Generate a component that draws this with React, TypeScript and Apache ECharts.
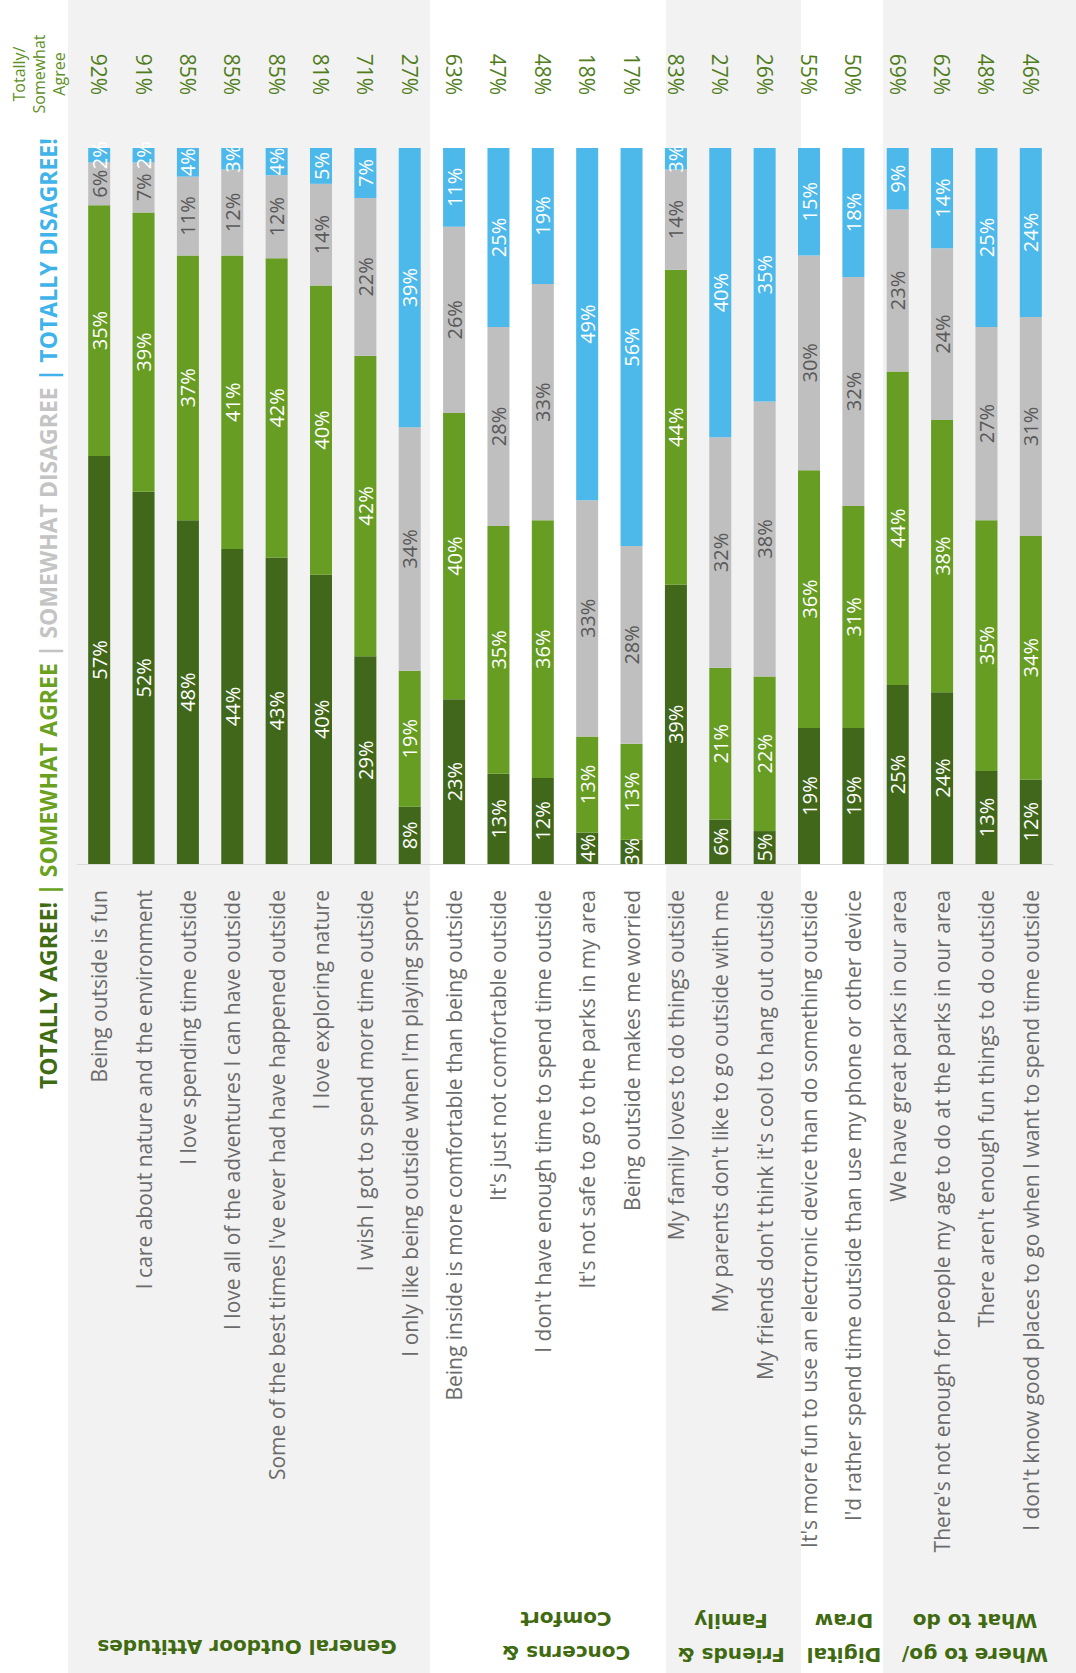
import React, { useEffect, useRef } from "react";
import * as echarts from "echarts";

const categories = [
  "Being outside is fun",
  "I care about nature and the environment",
  "I love spending time outside",
  "I love all of the adventures I can have outside",
  "Some of the best times I've ever had have happened outside",
  "I love exploring nature",
  "I wish I got to spend more time outside",
  "I only like being outside when I'm playing sports",
  "Being inside is more comfortable than being outside",
  "It's just not comfortable outside",
  "I don't have enough time to spend time outside",
  "It's not safe to go to the parks in my area",
  "Being outside makes me worried",
  "My family loves to do things outside",
  "My parents don't like to go outside with me",
  "My friends don't think it's cool to hang out outside",
  "It's more fun to use an electronic device than do something outside",
  "I'd rather spend time outside than use my phone or other device",
  "We have great parks in our area",
  "There's not enough for people my age to do at the parks in our area",
  "There aren't enough fun things to do outside",
  "I don't know good places to go when I want to spend time outside",
];

// Estimated unrounded shares (labels show them rounded)
const totallyAgree = [57, 52, 48, 44, 42.8, 40.4, 29, 8, 23, 12.6, 12, 4.4, 3.4, 39, 6.2, 4.6, 19, 19, 25, 24, 13, 11.8];
const somewhatAgree = [35, 39, 37, 41, 41.8, 40.4, 42, 19, 40, 34.6, 36, 13.4, 13.4, 44, 21.2, 21.6, 36, 31, 43.8, 38, 35, 34];
const somewhatDisagree = [6, 7, 11, 12, 11.6, 14.2, 22, 34, 26, 27.8, 33, 33, 27.6, 14, 32.2, 38.4, 30, 32, 22.6, 24, 27, 30.6];
const totallyDisagree = [2, 2, 4, 3, 3.8, 5, 7, 39, 11, 25, 19, 49.2, 55.6, 3, 40.4, 35.4, 15, 18, 8.6, 14, 25, 23.6];
const agreeTotals = [92, 91, 85, 85, 85, 81, 71, 27, 63, 47, 48, 18, 17, 83, 27, 26, 55, 50, 69, 62, 48, 46];

const groupNames = [
  "General Outdoor Attitudes",
  "Concerns &\nComfort",
  "Friends &\nFamily",
  "Digital\nDraw",
  "Where to go/\nWhat to do",
];

const COLORS = {
  dark: "#41681a",
  light: "#669d22",
  gray: "#bfbfbf",
  blue: "#4db8ea",
};

export default function App() {
  const ref = useRef<HTMLDivElement>(null);

  useEffect(() => {
    if (!ref.current) return;
    const chart = echarts.init(ref.current, null, { renderer: "svg" });
    const font = "'Open Sans', sans-serif";

    const mkSeries = (name: string, data: number[], color: string, labelColor: string) => ({
      name,
      type: "bar",
      stack: "all",
      data,
      barWidth: 22,
      itemStyle: { color },
      label: {
        show: true,
        position: "inside",
        rotate: 90,
        color: labelColor,
        fontFamily: font,
        fontSize: 20,
        formatter: (p: any) => Math.round(p.value) + "%",
      },
    });

    // background bands (decorative)
    const bands = [
      [68, 430],
      [666, 801],
      [883, 1076],
    ];
    const groupPos = [
      { x: 247, y: 1647 },
      { x: 566, y: 1636 },
      { x: 731, y: 1638 },
      { x: 844, y: 1638 },
      { x: 975, y: 1638 },
    ];

    const graphic: any[] = [];
    bands.forEach(([a, b]) => {
      graphic.push({
        type: "rect",
        z: -10,
        silent: true,
        shape: { x: a, y: 0, width: b - a, height: 1673 },
        style: { fill: "#f2f2f2" },
      });
    });
    groupNames.forEach((g, i) => {
      graphic.push({
        type: "text",
        x: groupPos[i].x,
        y: groupPos[i].y,
        rotation: Math.PI,
        style: {
          text: g,
          align: "center",
          verticalAlign: "middle",
          fill: "#3f6a10",
          font: "bold 20px 'DejaVu Sans', sans-serif",
          lineHeight: 34,
        },
      });
    });
    graphic.push({
      type: "text",
      x: 39,
      y: 74,
      rotation: Math.PI / 2,
      style: {
        text: "Totally/\nSomewhat\nAgree",
        align: "center",
        verticalAlign: "middle",
        fill: "#5e8f26",
        font: "16px 'Open Sans', sans-serif",
        lineHeight: 20,
      },
    });
    const lf = "bold 23px 'Open Sans', sans-serif";
    graphic.push({
      type: "text",
      x: 48,
      y: 1089,
      rotation: Math.PI / 2,
      style: {
        text:
          "{a|TOTALLY AGREE!} {b|| SOMEWHAT AGREE} {c|| SOMEWHAT DISAGREE} {d|| TOTALLY DISAGREE!}",
        align: "left",
        verticalAlign: "middle",
        font: lf,
        rich: {
          a: { fill: "#3f6b12", font: lf },
          b: { fill: "#6aa121", font: lf },
          c: { fill: "#c4c4c4", font: lf },
          d: { fill: "#3fb3ea", font: lf },
        },
      },
    });

    chart.setOption({
      animation: false,
      backgroundColor: "#ffffff",
      grid: { left: 77, right: 23, top: 148, bottom: 809, containLabel: false },
      xAxis: [
        {
          type: "category",
          data: categories,
          position: "bottom",
          axisLine: { show: true, lineStyle: { color: "#d9d9d9", width: 1 } },
          axisTick: { show: false },
          axisLabel: {
            interval: 0,
            rotate: 90,
            margin: 26,
            color: "#6b6b6b",
            fontFamily: font,
            fontSize: 21,
          },
        },
        {
          type: "category",
          data: agreeTotals.map((v) => v + "%"),
          position: "top",
          axisLine: { show: false },
          axisTick: { show: false },
          axisLabel: {
            interval: 0,
            rotate: 90,
            margin: 53,
            color: "#4f7d1c",
            fontFamily: font,
            fontSize: 21,
          },
        },
      ],
      yAxis: { type: "value", min: 0, max: 100, show: false, splitLine: { show: false } },
      series: [
        mkSeries("Totally Agree", totallyAgree, COLORS.dark, "#ffffff"),
        mkSeries("Somewhat Agree", somewhatAgree, COLORS.light, "#ffffff"),
        mkSeries("Somewhat Disagree", somewhatDisagree, COLORS.gray, "#595959"),
        mkSeries("Totally Disagree", totallyDisagree, COLORS.blue, "#ffffff"),
      ],
      graphic,
    });

    return () => chart.dispose();
  }, []);

  return (
    <div
      ref={ref}
      style={{ position: "absolute", left: 0, top: 0, width: 1076, height: 1673 }}
    />
  );
}
